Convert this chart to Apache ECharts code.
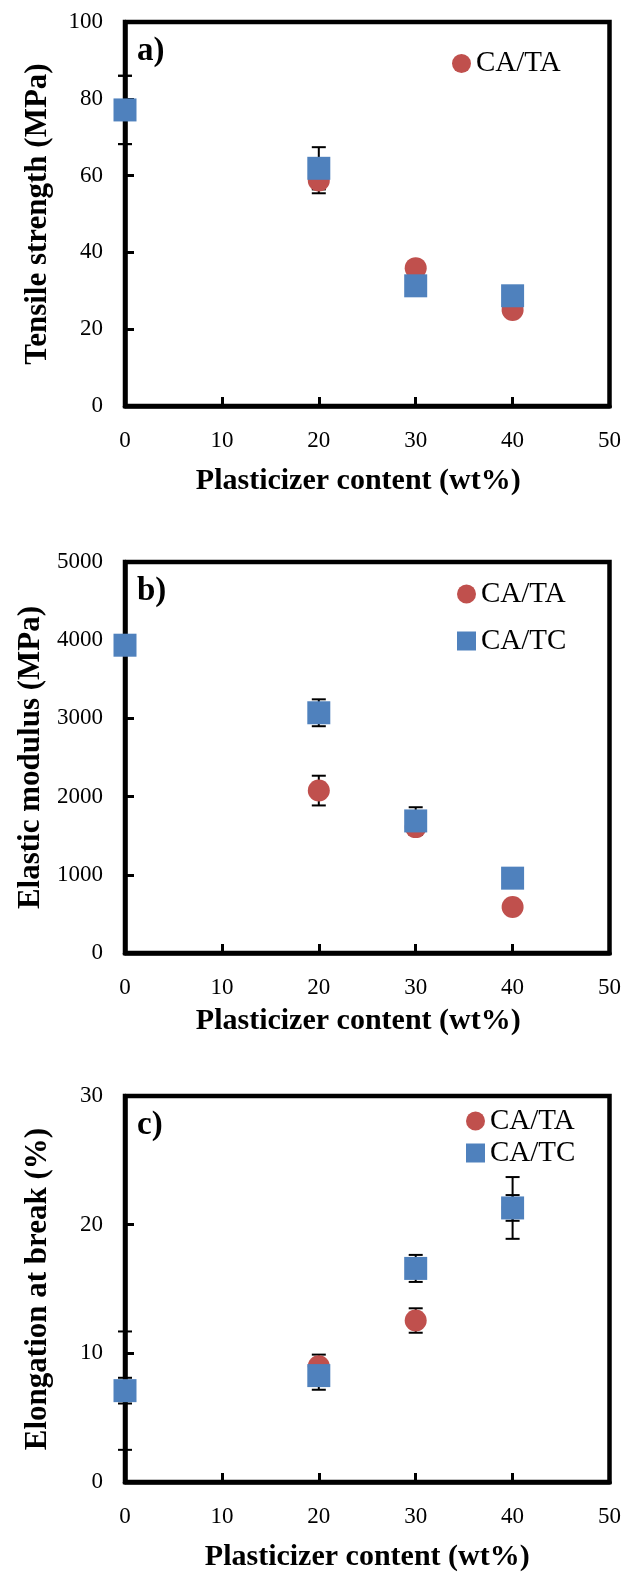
<!DOCTYPE html>
<html>
<head>
<meta charset="utf-8">
<script src="https://cdn.jsdelivr.net/npm/echarts@6/dist/echarts.min.js"></script>
<style>
  html, body { margin: 0; padding: 0; background: #fff; }
  #chart { width: 624px; height: 1573px; }
</style>
</head>
<body>
<div id="chart"></div>
<script>
// plasticizer content (wt%)
const contents = [0, 20, 30, 40];

// a) tensile strength (MPa)
const tensileTA = [77.1, 58.7, 35.9, 25.0];
const tensileTAErr = [8.9, 3.3, 1.0, 1.0];
const tensileTC = [77.1, 61.9, 31.3, 28.7];
const tensileTCErr = [8.9, 5.5, 1.0, 1.0];

// b) elastic modulus (MPa)
const modulusTA = [3936, 2077, 1610, 587];
const modulusTAErr = [60, 190, 100, 50];
const modulusTC = [3936, 3072, 1689, 957];
const modulusTCErr = [60, 172, 175, 50];

// c) elongation at break (%)
const elongTA = [7.1, 9.0, 12.55, 21.3];
const elongTAErr = [1.0, 0.9, 0.95, 1.0];
const elongTC = [7.1, 8.27, 16.6, 21.3];
const elongTCErr = [4.6, 1.1, 1.05, 2.4];

const xTicks = [0, 10, 20, 30, 40, 50];

const RED = '#c0504d';
const BLUE = '#4f81bd';
const FONT = 'Liberation Serif';

const chartDom = document.getElementById('chart');
const myChart = echarts.init(chartDom);

// panel layout (pixels)
const panels = [
  { top: 22, height: 384, max: 100, step: 20, yName: 'Tensile strength (MPa)', yGap: 72, xGap: 60, xShift: 18, tag: 'a)' },
  { top: 562, height: 391, max: 5000, step: 1000, yName: 'Elastic modulus (MPa)', yGap: 78, xGap: 53, xShift: 18, tag: 'b)' },
  { top: 1096, height: 387, max: 30, step: 10, yName: 'Elongation at break (%)', yGap: 72, xGap: 60, xShift: 0, tag: 'c)' },
];

const pairs = (vals, errs) => contents.map((x, i) => [x, vals[i] - errs[i], vals[i] + errs[i]]);
const points = (vals) => contents.map((x, i) => [x, vals[i]]);

function errorBars(idx, data) {
  return {
    type: 'custom',
    xAxisIndex: idx,
    yAxisIndex: idx,
    clip: false,
    z: 1,
    silent: true,
    encode: { x: 0, y: [1, 2] },
    data: data,
    renderItem: function (params, api) {
      const x = api.value(0);
      const lo = api.coord([x, api.value(1)]);
      const hi = api.coord([x, api.value(2)]);
      const cap = 7;
      const style = { stroke: '#000', lineWidth: 2 };
      return {
        type: 'group',
        children: [
          { type: 'line', shape: { x1: lo[0], y1: lo[1], x2: hi[0], y2: hi[1] }, style: style },
          { type: 'line', shape: { x1: lo[0] - cap, y1: lo[1], x2: lo[0] + cap, y2: lo[1] }, style: style },
          { type: 'line', shape: { x1: hi[0] - cap, y1: hi[1], x2: hi[0] + cap, y2: hi[1] }, style: style },
        ],
      };
    },
  };
}

function scatter(idx, name, data, color, symbol, size) {
  return {
    type: 'scatter',
    name: name,
    xAxisIndex: idx,
    yAxisIndex: idx,
    clip: false,
    z: 3,
    symbol: symbol,
    symbolSize: size,
    itemStyle: { color: color, opacity: 1 },
    data: data,
  };
}

const axisLineStyle = { color: '#000', width: 4.5 };
const tickStyle = { color: '#000', width: 3 };

const option = {
  animation: false,
  backgroundColor: '#fff',
  title: panels.map((p) => ({
    text: p.tag,
    left: 132,
    top: p.top + 8,
    textStyle: { fontFamily: FONT, fontSize: 33, fontWeight: 'bold', color: '#000' },
  })),
  legend: [
    {
      data: ['CA/TA'],
      left: 447, top: 44,
      itemWidth: 19, itemHeight: 19,
      textStyle: { fontFamily: FONT, fontSize: 29, color: '#000' },
    },
    {
      data: ['CA/TA', 'CA/TC'],
      orient: 'vertical',
      left: 452, top: 574,
      itemWidth: 19, itemHeight: 19, itemGap: 17,
      textStyle: { fontFamily: FONT, fontSize: 29, color: '#000', lineHeight: 30 },
    },
    {
      data: ['CA/TA', 'CA/TC'],
      orient: 'vertical',
      left: 461, top: 1101,
      itemWidth: 19, itemHeight: 19, itemGap: 2,
      textStyle: { fontFamily: FONT, fontSize: 29, color: '#000', lineHeight: 30 },
    },
  ],
  grid: panels.map((p) => ({
    left: 125,
    right: 12,
    top: p.top,
    height: p.height,
    show: true,
    borderColor: '#000',
    borderWidth: 4.5,
    backgroundColor: 'transparent',
  })),
  xAxis: panels.map((p, i) => ({
    type: 'value',
    gridIndex: i,
    min: xTicks[0],
    max: xTicks[xTicks.length - 1],
    interval: 10,
    name: 'Plasticizer content (wt%)',
    nameLocation: 'middle',
    nameGap: p.xGap,
    nameTextStyle: {
      fontFamily: FONT, fontSize: 30, fontWeight: 'bold', color: '#000',
      padding: [0, p.xShift, 0, 0],
    },
    splitLine: { show: false },
    axisLine: { onZero: false, lineStyle: axisLineStyle },
    axisTick: { inside: true, length: 9, lineStyle: tickStyle },
    axisLabel: { margin: 23, fontFamily: FONT, fontSize: 23, color: '#000' },
  })),
  yAxis: panels.map((p, i) => ({
    type: 'value',
    gridIndex: i,
    min: 0,
    max: p.max,
    interval: p.step,
    name: p.yName,
    nameLocation: 'middle',
    nameGap: p.yGap,
    nameTextStyle: { fontFamily: FONT, fontSize: 31, fontWeight: 'bold', color: '#000' },
    splitLine: { show: false },
    axisLine: { onZero: false, lineStyle: axisLineStyle },
    axisTick: { inside: true, length: 9, lineStyle: tickStyle },
    axisLabel: {
      margin: 22, fontFamily: FONT, fontSize: 23, color: '#000',
      formatter: (v) => String(v),
    },
  })),
  series: [
    errorBars(0, pairs(tensileTA, tensileTAErr)),
    errorBars(0, pairs(tensileTC, tensileTCErr)),
    scatter(0, 'CA/TA', points(tensileTA), RED, 'circle', 22),
    scatter(0, 'CA/TC', points(tensileTC), BLUE, 'rect', 23),

    errorBars(1, pairs(modulusTA, modulusTAErr)),
    errorBars(1, pairs(modulusTC, modulusTCErr)),
    scatter(1, 'CA/TA', points(modulusTA), RED, 'circle', 22),
    scatter(1, 'CA/TC', points(modulusTC), BLUE, 'rect', 23),

    errorBars(2, pairs(elongTA, elongTAErr)),
    errorBars(2, pairs(elongTC, elongTCErr)),
    scatter(2, 'CA/TA', points(elongTA), RED, 'circle', 22),
    scatter(2, 'CA/TC', points(elongTC), BLUE, 'rect', 23),
  ],
};

myChart.setOption(option);

window.addEventListener('resize', function () {
  myChart.resize();
});
</script>
</body>
</html>
